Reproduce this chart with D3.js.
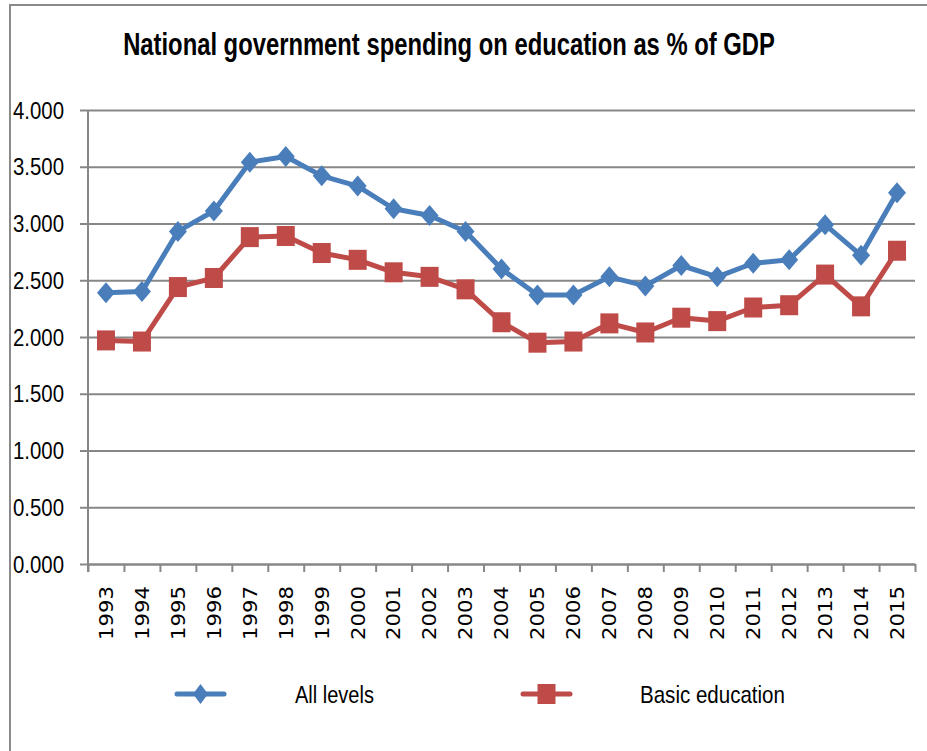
<!DOCTYPE html>
<html>
<head>
<meta charset="utf-8">
<script src="https://cdn.jsdelivr.net/npm/d3@7"></script>
<style>
  html, body { margin: 0; padding: 0; background: #ffffff; }
  svg { display: block; }
  text { font-family: "Liberation Sans", Arial, sans-serif; fill: #000; }
</style>
</head>
<body>
<svg id="chart" width="927" height="751"></svg>
<script>
// Spending on education as a share of GDP, by fiscal year
const years = ["1993","1994","1995","1996","1997","1998","1999","2000","2001","2002","2003",
               "2004","2005","2006","2007","2008","2009","2010","2011","2012","2013","2014","2015"];
const allLevels = [2.39, 2.40, 2.93, 3.11, 3.54, 3.59, 3.42, 3.33, 3.13, 3.07, 2.93,
                   2.60, 2.37, 2.37, 2.53, 2.45, 2.63, 2.53, 2.65, 2.68, 2.99, 2.72, 3.27];
const basicEducation = [1.97, 1.96, 2.44, 2.52, 2.88, 2.89, 2.74, 2.68, 2.57, 2.53, 2.42,
                        2.13, 1.95, 1.96, 2.12, 2.04, 2.17, 2.14, 2.26, 2.28, 2.55, 2.27, 2.76];
const yTicks = [0, 0.5, 1.0, 1.5, 2.0, 2.5, 3.0, 3.5, 4.0];
const seriesNames = ["All levels", "Basic education"];
const titleText = "National government spending on education as % of GDP";

const blue = "#4a7ebb", red = "#be4b48", grid = "#878787";

const svg = d3.select("#chart");

// Squeeze a text horizontally so it spans the given width (narrow, tall lettering)
function condense(sel, width, anchorX, baseY, anchor) {
  sel.each(function () {
    const t = d3.select(this);
    const natural = this.getComputedTextLength();
    const k = width / natural;
    t.attr("x", 0).attr("y", 0).attr("text-anchor", anchor)
     .attr("transform", `translate(${anchorX},${baseY}) scale(${k},1)`);
  });
}

// outer frame (top and left edges)
svg.append("path")
  .attr("d", "M10,751 L10,5 L927,5")
  .attr("fill", "none").attr("stroke", "#8a8a8a").attr("stroke-width", 2);

const plotLeft = 88, plotRight = 915, plotTop = 110, plotBottom = 564;

const x = d3.scaleBand().domain(years).range([plotLeft, plotRight]);
const xEdge = d3.scaleLinear().domain([0, years.length]).range([plotLeft, plotRight]);
const y = d3.scaleLinear().domain([0, 4]).range([plotBottom, plotTop]);

// title
svg.append("text")
  .attr("font-size", 32).attr("font-weight", "bold")
  .text(titleText)
  .call(condense, 652, 449, 55, "middle");

// horizontal gridlines
const gridG = svg.append("g").attr("transform", `translate(${plotLeft},0)`)
  .call(d3.axisLeft(y).tickValues(yTicks).tickSize(-(plotRight - plotLeft)).tickFormat(""));
gridG.select(".domain").remove();
gridG.selectAll("line").attr("stroke", grid).attr("stroke-width", 2);

// y axis with tick marks and labels
const yAxisG = svg.append("g").attr("transform", `translate(${plotLeft},0)`)
  .call(d3.axisLeft(y).tickValues(yTicks).tickSize(8).tickSizeOuter(0).tickPadding(0)
        .tickFormat(d3.format(".3f")));
yAxisG.select(".domain").remove();
yAxisG.selectAll("line").attr("stroke", grid).attr("stroke-width", 2);
yAxisG.selectAll("text")
  .attr("dy", null)
  .attr("font-size", 23)
  .style("font-family", "'Liberation Sans', Arial, sans-serif")
  .attr("fill", "#000")
  .call(condense, 51, -24, 8, "end");

svg.append("line")
  .attr("x1", plotLeft).attr("x2", plotLeft).attr("y1", plotTop).attr("y2", plotBottom + 8)
  .attr("stroke", grid).attr("stroke-width", 2);

// x axis: boundary tick marks between categories
const xTickG = svg.append("g").attr("transform", `translate(0,${plotBottom})`)
  .call(d3.axisBottom(xEdge).tickValues(d3.range(0, years.length + 1)).tickSize(8)
        .tickSizeOuter(0).tickFormat(""));
xTickG.select(".domain").attr("stroke", grid).attr("stroke-width", 2);
xTickG.selectAll("line").attr("stroke", grid).attr("stroke-width", 2);

// x axis: rotated year labels centred in each category
const xLabG = svg.append("g").attr("transform", `translate(0,${plotBottom})`)
  .call(d3.axisBottom(x).tickSize(0));
xLabG.select(".domain").remove();
xLabG.selectAll("text")
  .attr("x", 0).attr("y", 0).attr("dy", "0.36em")
  .attr("text-anchor", "end")
  .attr("font-size", 19)
  .style("font-family", "'DejaVu Sans', Verdana, sans-serif")
  .attr("fill", "#000")
  .each(function () {
    const k = 54 / this.getComputedTextLength();
    d3.select(this).attr("transform", `rotate(-90) translate(-22,0) scale(${k},1)`);
  });

const line = d3.line()
  .x((d, i) => x(years[i]) + x.bandwidth() / 2)
  .y(d => y(d));

const diamond = (cx, cy, w, h) =>
  `M${cx},${cy - h / 2} L${cx + w / 2},${cy} L${cx},${cy + h / 2} L${cx - w / 2},${cy} Z`;

// All levels series
svg.append("path").datum(allLevels)
  .attr("d", line).attr("fill", "none")
  .attr("stroke", blue).attr("stroke-width", 5).attr("stroke-linejoin", "round");
svg.append("g").selectAll("path").data(allLevels).join("path")
  .attr("d", (d, i) => diamond(x(years[i]) + x.bandwidth() / 2, y(d), 18, 21))
  .attr("fill", blue);

// Basic education series
svg.append("path").datum(basicEducation)
  .attr("d", line).attr("fill", "none")
  .attr("stroke", red).attr("stroke-width", 5).attr("stroke-linejoin", "round");
svg.append("g").selectAll("rect").data(basicEducation).join("rect")
  .attr("x", (d, i) => x(years[i]) + x.bandwidth() / 2 - 9)
  .attr("y", d => y(d) - 10)
  .attr("width", 18).attr("height", 20)
  .attr("fill", red);

// legend
const legend = [
  { name: seriesNames[0], color: blue, lx: 177, tx: 295, tw: 79, shape: "diamond" },
  { name: seriesNames[1], color: red, lx: 523, tx: 640, tw: 145, shape: "square" }
];
const ly = 694;
legend.forEach(l => {
  svg.append("line")
    .attr("x1", l.lx).attr("x2", l.lx + 47).attr("y1", ly).attr("y2", ly)
    .attr("stroke", l.color).attr("stroke-width", 5).attr("stroke-linecap", "round");
  const cx = l.lx + 23.5;
  if (l.shape === "diamond") {
    svg.append("path").attr("d", diamond(cx, ly, 15, 20)).attr("fill", l.color);
  } else {
    svg.append("rect").attr("x", cx - 9).attr("y", ly - 10)
      .attr("width", 18).attr("height", 20).attr("fill", l.color);
  }
  svg.append("text")
    .attr("font-size", 24)
    .text(l.name)
    .call(condense, l.tw, l.tx, ly + 9, "start");
});
</script>
</body>
</html>
